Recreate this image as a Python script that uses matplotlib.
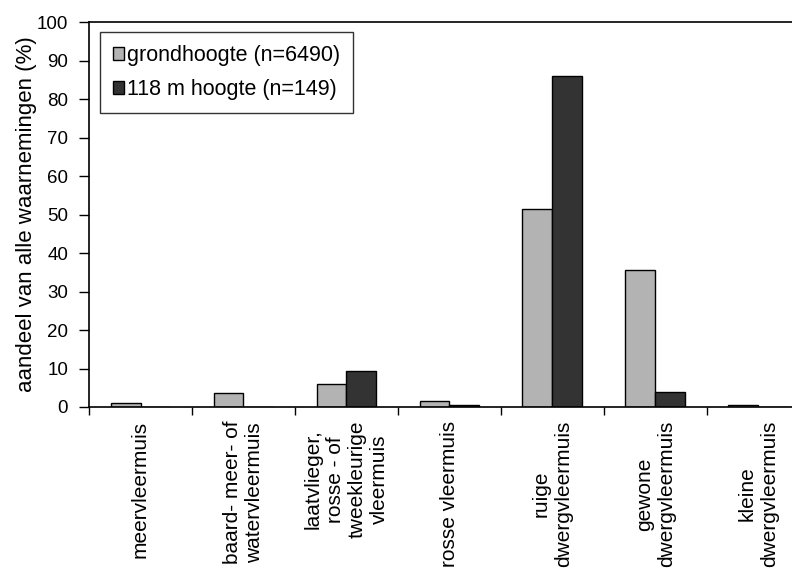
import numpy as np
import matplotlib.pyplot as plt

plt.rcParams['font.family'] = ['Liberation Sans', 'DejaVu Sans']

# data
categories = ['meervleermuis',
              'baard- meer- of\nwatervleermuis',
              'laatvlieger,\nrosse - of\ntweekleurige\nvleermuis',
              'rosse vleermuis',
              'ruige\ndwergvleermuis',
              'gewone\ndwergvleermuis',
              'kleine\ndwergvleermuis']
grond = [1.1, 3.6, 6.0, 1.5, 51.5, 35.5, 0.4]
hoogte = [0.0, 0.0, 9.3, 0.4, 86.0, 4.0, 0.0]
series_labels = ['grondhoogte (n=6490)', '118 m hoogte (n=149)']

fig = plt.figure(figsize=(7.92, 5.70), dpi=100)
ax = fig.add_axes([0.1124, 0.286, 0.910, 0.675])

x = np.arange(len(categories))
w = 0.29
ax.bar(x - w / 2, grond, w, color='#b3b3b3', edgecolor='black', linewidth=1, label=series_labels[0])
ax.bar(x + w / 2, hoogte, w, color='#333333', edgecolor='black', linewidth=1, label=series_labels[1])

ax.set_xlim(-0.5, len(categories) - 0.5)
ax.set_ylim(0, 100)
ax.set_yticks(range(0, 101, 10))
ax.tick_params(axis='y', labelsize=13.5, length=7, width=1, direction='out', pad=8)

# boundary ticks (major), category labels on minor ticks
ax.set_xticks(np.arange(-0.5, len(categories), 1.0))
ax.set_xticklabels([])
ax.tick_params(axis='x', which='major', length=6, width=1, direction='out')
ax.set_xticks(x, minor=True)
ax.set_xticklabels(categories, minor=True, rotation=90, fontsize=15,
                   ha='center', va='top', multialignment='center')
ax.tick_params(axis='x', which='minor', length=0, pad=10)

ax.set_ylabel('aandeel van alle waarnemingen (%)', fontsize=16, labelpad=0)

ax.spines['right'].set_visible(False)
for s in ['left', 'bottom', 'top']:
    ax.spines[s].set_linewidth(1.2)

leg = ax.legend(loc='upper left', bbox_to_anchor=(0.015, 0.974), borderaxespad=0,
                fontsize=15.5, frameon=True, fancybox=False, edgecolor='black',
                handlelength=0.5, handleheight=0.5, handletextpad=0.15,
                borderpad=0.6, labelspacing=0.6)
leg.get_frame().set_linewidth(1)

fig.savefig('out.png', dpi=100)
